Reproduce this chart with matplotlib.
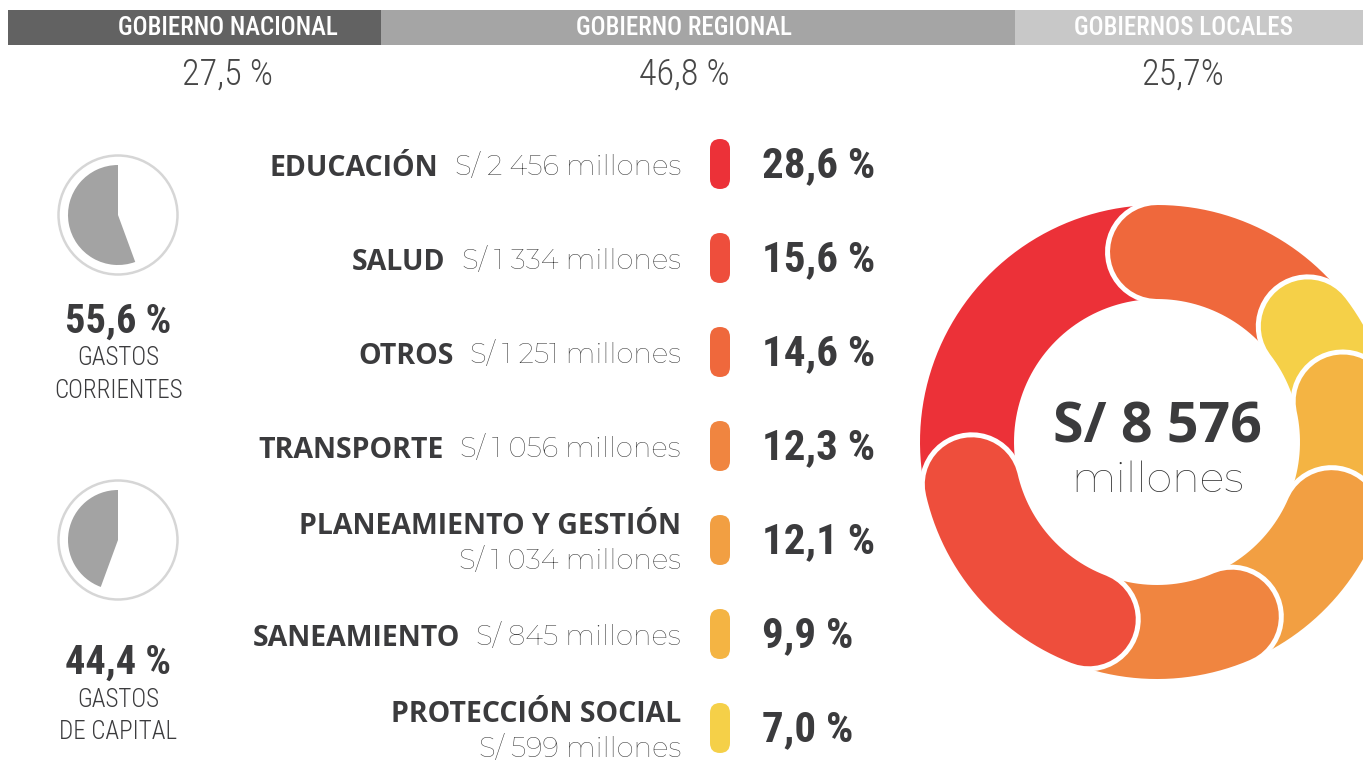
import numpy as np
import matplotlib
matplotlib.use("Agg")
import matplotlib.pyplot as plt
from matplotlib import font_manager as fm
from matplotlib.patches import FancyBboxPatch, Wedge, Circle

# ---------------- data ----------------
gov_levels = ["GOBIERNO NACIONAL", "GOBIERNO REGIONAL", "GOBIERNOS LOCALES"]
gov_shares = [27.5, 46.8, 25.7]
gov_labels = ["27,5 %", "46,8 %", "25,7%"]

spend_types = [["GASTOS", "CORRIENTES"], ["GASTOS", "DE CAPITAL"]]
spend_shares = [55.6, 44.4]
spend_labels = ["55,6 %", "44,4 %"]

categories = ["EDUCACIÓN", "SALUD", "OTROS", "TRANSPORTE",
              "PLANEAMIENTO Y GESTIÓN", "SANEAMIENTO", "PROTECCIÓN SOCIAL"]
amounts = ["S/ 2 456 millones", "S/ 1 334 millones", "S/ 1 251 millones",
           "S/ 1 056 millones", "S/ 1 034 millones", "S/ 845 millones",
           "S/ 599 millones"]
shares = [28.6, 15.6, 14.6, 12.3, 12.1, 9.9, 7.0]
share_labels = ["28,6 %", "15,6 %", "14,6 %", "12,3 %", "12,1 %", "9,9 %", "7,0 %"]
donut_order = ["OTROS", "PROTECCIÓN SOCIAL", "SANEAMIENTO",
               "PLANEAMIENTO Y GESTIÓN", "TRANSPORTE", "SALUD", "EDUCACIÓN"]
total_label = "S/ 8 576"
total_unit = "millones"

# ---------------- style ----------------
cat_colors = ["#EC3138", "#EE4E3C", "#EF683C", "#F08540", "#F29F42", "#F4B443", "#F5D048"]
gov_colors = ["#626262", "#A5A5A5", "#C8C8C8"]
two_line = [False, False, False, False, True, False, True]
DARK = "#3b3b3d"
MID = "#474747"
LIGHTTXT = "#333333"


def _w(f):
    w = f.weight
    if isinstance(w, str):
        w = fm.weight_dict.get(w, 400)
    return int(w)


entries = {}
for f in fm.fontManager.ttflist:
    entries.setdefault(f.name, []).append(f)


def pick(cands, test=lambda e: True, default="DejaVu Sans"):
    for c in cands:
        if c in entries and any(test(e) for e in entries[c]):
            return c
    return default


COND = pick(["Roboto Condensed", "Liberation Sans Narrow", "DejaVu Sans"])
CSTR = "condensed" if COND == "DejaVu Sans" else "normal"
GEO_B = pick(["Montserrat", "Open Sans", "Lato", "Roboto", "DejaVu Sans"],
             lambda e: _w(e) >= 600)
GEO_L = pick(["Montserrat", "Open Sans", "Lato", "Roboto", "DejaVu Sans"],
             lambda e: _w(e) <= 350)

W, H = 1363, 760
PT = 0.72  # px -> pt at dpi 100

fig = plt.figure(figsize=(W / 100, H / 100), dpi=100)
fig.patch.set_facecolor("white")

# ---------------- header bar ----------------
axb = fig.add_axes([8 / W, 1 - 45 / H, 1355 / W, 35 / H])
axb.set_zorder(0)
lefts = np.concatenate([[0], np.cumsum(gov_shares)[:-1]])
axb.barh(0, gov_shares, left=lefts, height=1.0, color=gov_colors, linewidth=0)
axb.set_xlim(0, sum(gov_shares))
axb.set_ylim(-0.5, 0.5)
axb.axis("off")

ax = fig.add_axes([0, 0, 1, 1])
ax.set_zorder(1)
ax.set_xlim(0, W)
ax.set_ylim(H, 0)
ax.axis("off")

head_x = [228, 684, 1183]
for x, lab, pct in zip(head_x, gov_levels, gov_labels):
    ax.text(x, 28, lab, color="white", fontsize=18, fontweight="medium",
            family=COND, fontstretch=CSTR, ha="center", va="center")
    ax.text(x, 75, pct, color=MID, fontsize=26, fontweight="light",
            family=COND, fontstretch=CSTR, ha="center", va="center")

# ---------------- small pies ----------------
pie_cx = 118
pie_cy = [215, 540]
pct_y = [322, 663]
lab_y = [[358, 391], [700, 732]]
for i, (s, lab, lines) in enumerate(zip(spend_shares, spend_labels, spend_types)):
    cyp = pie_cy[i]
    ax.add_patch(Circle((pie_cx, cyp), 59.5, fill=False, ec="#d6d6d6", lw=2.5 * PT))
    ax.add_patch(Wedge((pie_cx, cyp), 50, -90 - s * 3.6, -90,
                       fc="#A3A3A3", ec="none"))
    ax.text(pie_cx, pct_y[i], lab, color=DARK, fontsize=29, fontweight="bold",
            family=COND, fontstretch=CSTR, ha="center", va="center")
    for yy, t in zip(lab_y[i], lines):
        ax.text(pie_cx, yy, t, color=DARK, fontsize=18, fontweight="light",
                family=COND, fontstretch=CSTR, ha="center", va="center")

# ---------------- category list ----------------
row0, step = 164, 94
for i, (cat, amt, lab, col) in enumerate(zip(categories, amounts, share_labels, cat_colors)):
    y = row0 + step * i
    ax.add_patch(FancyBboxPatch((710, y - 25), 20, 50,
                                boxstyle="round,pad=0,rounding_size=10",
                                fc=col, ec="none"))
    ax.text(762, y + 2, lab, color=DARK, fontsize=31, fontweight="bold",
            family=COND, fontstretch=CSTR, ha="left", va="center")
    if two_line[i]:
        ax.text(681, y - 13, cat, color=DARK, fontsize=20.5, fontweight="bold",
                family=GEO_B, ha="right", va="center")
        ax.text(681, y + 21, amt, color=LIGHTTXT, fontsize=20, fontweight="light",
                family=GEO_L, ha="right", va="center")
    else:
        t = ax.text(681, y + 4, amt, color=LIGHTTXT, fontsize=20, fontweight="light",
                    family=GEO_L, ha="right", va="center")
        ax.annotate(cat, xy=(0, 0.5), xycoords=t, xytext=(-12, 0),
                    textcoords="offset points", color=DARK, fontsize=20.5,
                    fontweight="bold", family=GEO_B, ha="right", va="center")

# ---------------- donut ----------------
cx, cy, rm, wr = 1157, 442, 190, 94
vals = [shares[categories.index(c)] for c in donut_order]
cols = [cat_colors[categories.index(c)] for c in donut_order]
bounds = 90 - np.cumsum([0] + vals) / sum(vals) * 360
segs = [(bounds[k], bounds[k + 1], cols[k]) for k in range(len(vals))]
draw_seq = [segs[-1]] + segs[:-1]
for k, (a0, a1, col) in enumerate(draw_seq):
    t = np.radians(np.linspace(a0, a1, 300))
    xs = cx + rm * np.cos(t)
    ys = cy - rm * np.sin(t)
    ax.plot(xs, ys, color="white", lw=(wr + 10) * PT, solid_capstyle="round",
            zorder=10 + 2 * k)
    ax.plot(xs, ys, color=col, lw=wr * PT, solid_capstyle="round",
            zorder=11 + 2 * k)

ax.text(cx, 428, total_label, color=DARK, fontsize=40, fontweight="bold",
        family=GEO_B, ha="center", va="center", zorder=40)
ax.text(cx, 480, total_unit, color=LIGHTTXT, fontsize=30, fontweight="light",
        family=GEO_L, ha="center", va="center", zorder=40)

fig.savefig("out.png", dpi=100, facecolor="white")
